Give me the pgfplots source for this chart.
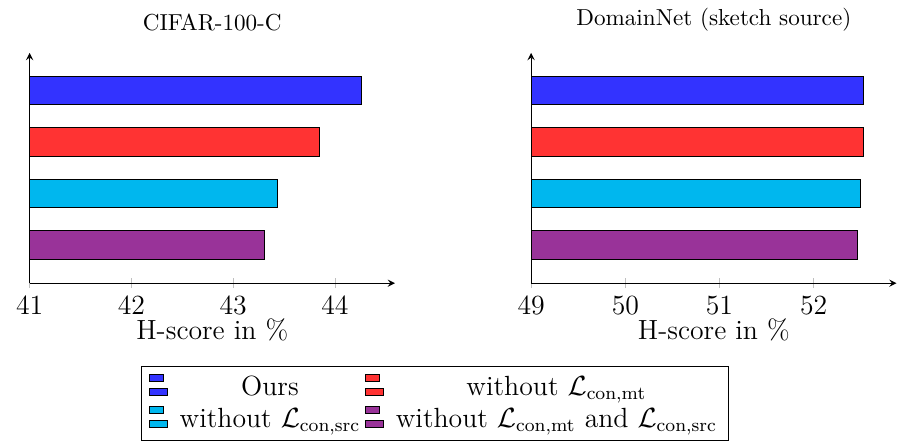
\documentclass[border=0pt]{standalone}
\usepackage{pgfplots}
\pgfplotsset{compat=1.18}
\definecolor{cblue}{RGB}{51,51,255}
\definecolor{cred}{RGB}{255,51,51}
\definecolor{ccyan}{RGB}{0,183,238}
\definecolor{cviolet}{RGB}{153,51,153}
\begin{document}
\begin{tikzpicture}
\pgfplotsset{
  hbars/.style={
    xbar, bar shift=0pt, bar width=12.4pt,
    width=158pt, height=99.6pt, scale only axis,
    axis lines=left,
    ymin=-0.74, ymax=3.73, ytick=\empty,
    xtick style={gray!50},
    tick label style={font=\large},
    xlabel={H-score in \%},
    label style={font=\large},
    xlabel style={yshift=5pt},
    title style={font=\normalsize},
  }
}
\path (-12.8pt,0pt);
\begin{axis}[hbars,
  xmin=41, xmax=44.59, xtick={41,42,43,44},
  title={CIFAR-100-C},
  legend columns=2, legend cell align=center,
  legend style={font=\large, at={(1.11,-0.36)}, anchor=north, draw=black,
    /tikz/every odd column/.append style={column sep=3pt}}]
\addplot[fill=cblue, draw=black] coordinates {(44.26,3)};
\addplot[fill=cred, draw=black] coordinates {(43.85,2)};
\addplot[fill=ccyan, draw=black] coordinates {(43.44,1)};
\addplot[fill=cviolet, draw=black] coordinates {(43.31,0)};
\legend{Ours, without $\mathcal{L}_{\mathrm{con,mt}}$, without $\mathcal{L}_{\mathrm{con,src}}$, without $\mathcal{L}_{\mathrm{con,mt}}$ and $\mathcal{L}_{\mathrm{con,src}}$}
\end{axis}
\begin{axis}[hbars, at={(216.9pt,0pt)},
  xmin=49, xmax=52.88, xtick={49,50,51,52},
  title={DomainNet (sketch source)}]
\addplot[fill=cblue, draw=black] coordinates {(52.53,3)};
\addplot[fill=cred, draw=black] coordinates {(52.53,2)};
\addplot[fill=ccyan, draw=black] coordinates {(52.50,1)};
\addplot[fill=cviolet, draw=black] coordinates {(52.47,0)};
\end{axis}
\end{tikzpicture}
\end{document}
